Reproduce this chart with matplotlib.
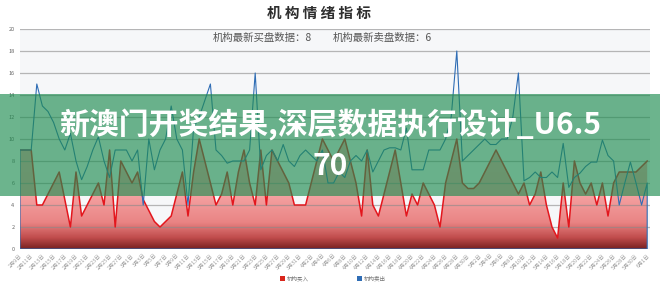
import matplotlib
matplotlib.use('Agg')
import matplotlib.pyplot as plt
from matplotlib.colors import LinearSegmentedColormap
from matplotlib.patches import Rectangle, PathPatch
import numpy as np
import pandas as pd

plt.rcParams['font.family'] = ['Noto Sans CJK SC', 'DejaVu Sans']

# daily categories, labelled every other day on the axis
dates = pd.date_range('2021-02-09', periods=113, freq='D')
day_labels = [f'{d.month}月{d.day}日' for d in dates]

# 机构买入 (red area)
buy = [9, 9, 9, 4, 4, 5, 6, 7, 4.5, 2,
       7, 3, 4, 5, 6, 4, 9, 2, 8, 7,
       6, 7, 4.5, 3.5, 2.5, 2, 2.5, 3, 5, 7,
       3, 7, 10, 8, 6, 4, 5, 7, 4, 7,
       9, 6, 4, 9, 4, 9, 8, 7, 6, 4,
       4, 4, 6, 8, 10, 9, 8, 9, 10, 8,
       6, 3, 9, 4, 3, 5, 7, 9, 6, 3,
       5, 4, 6, 5, 4, 2, 6, 8, 10, 6,
       5.5, 5.5, 6, 7, 8, 9, 8, 7, 6, 5,
       6, 4, 5, 7, 4, 2, 1, 6, 2, 8,
       6, 5, 6, 4, 6, 3, 6, 7, 7, 7,
       7, 7.5, 8]

# 机构卖出 (blue outline)
sell = [9, 9, 9, 15, 13, 12.5, 11.5, 10, 9, 10.5,
        8, 6.3, 7.5, 9, 10.2, 8, 6.5, 9, 9, 9,
        8, 9, 4, 10, 7.2, 9, 10, 13, 10, 9,
        4, 11, 12, 13.5, 15, 9, 8.5, 7.8, 8, 8,
        8, 9, 16, 7.2, 8.5, 9, 8, 9.5, 8, 7.5,
        8.5, 9, 8.5, 8, 9, 6, 6, 7, 6.5, 8,
        8.5, 8, 9, 7, 8, 9, 9.2, 9.2, 9, 11,
        7.2, 7.2, 7.2, 9, 9, 9, 10, 12, 18, 8,
        8.5, 9, 9.5, 10, 9.5, 9.5, 10, 10, 12, 16,
        6.2, 6.5, 7, 6.5, 6.5, 7, 6.5, 9.6, 5.6, 6.5,
        6.9, 7.5, 7.9, 7.9, 9.9, 8.5, 8, 4, 6, 7.9,
        6, 4, 6]

fig = plt.figure(figsize=(6.6, 2.91), dpi=100)
ax = fig.add_axes([20/660, 42/291, 630/660, 220/291])
ax.set_facecolor('#f6f7f9')

x = np.arange(len(buy))

# red area with vertical gradient
poly = ax.fill_between(x, 0, buy, facecolor='none', edgecolor='none')
clip = PathPatch(poly.get_paths()[0], transform=ax.transData, facecolor='none', edgecolor='none')
ax.add_patch(clip)
cmap = LinearSegmentedColormap.from_list('redgrad', [(0, '#7a2222'), (0.05, '#c04c4c'),
                                                     (0.12, '#e98484'), (0.25, '#f5a3a3'),
                                                     (1, '#f9baba')])
grad = np.linspace(0, 1, 256).reshape(-1, 1)
im = ax.imshow(grad, extent=[0, 112.5, 0, 20], origin='lower', aspect='auto', cmap=cmap, zorder=1)
im.set_clip_path(clip)

for v in range(2, 21, 2):
    ax.axhline(v, color='#8a8a8a', lw=0.9, alpha=0.6, zorder=3)

ax.plot(x, buy, color='#e3161d', lw=1.1, zorder=4)
ax.fill_between(x, 0, sell, facecolor='none', edgecolor='#2f6db5', lw=0.8, zorder=5)

ax.set_xlim(0, 112.5)
ax.set_ylim(0, 20)
for s in ax.spines.values():
    s.set_visible(False)

ax.set_yticks(range(0, 21, 2))
ax.tick_params(axis='y', length=0, labelsize=4, colors='#666666', pad=4)
ax.set_xticks(x[::2])
ax.set_xticklabels(day_labels[::2], rotation=45, ha='right', rotation_mode='anchor',
                   fontsize=3.8, color='#999999')
ax.tick_params(axis='x', length=0, pad=3)

# title and annotations
fig.text(319/660, 1 - 13/291, '机 构 情 绪 指 标', ha='center', va='center',
         fontsize=10.5, fontweight='bold', color='#2e2e2e')
fig.text(262/660, 1 - 38/291, '机构最新买盘数据：8', ha='center', va='center',
         fontsize=7.5, color='#555555')
fig.text(382/660, 1 - 38/291, '机构最新卖盘数据：6', ha='center', va='center',
         fontsize=7.5, color='#555555')

# legend
fig.add_artist(Rectangle((280/660, 1 - 281/291), 5/660, 5/291, transform=fig.transFigure,
                         facecolor='#d9261c', edgecolor='none'))
fig.text(287/660, 1 - 278.5/291, '机构买入', fontsize=4, va='center', color='#777777')
fig.add_artist(Rectangle((357/660, 1 - 281/291), 5/660, 5/291, transform=fig.transFigure,
                         facecolor='#2f6db5', edgecolor='none'))
fig.text(364/660, 1 - 278.5/291, '机构卖出', fontsize=4, va='center', color='#777777')

# green banner over the chart
fig.add_artist(Rectangle((0, 95/291), 1, 102/291, transform=fig.transFigure,
                         facecolor='#1e8c50', alpha=0.65, edgecolor='none', zorder=10))
fig.text(0.5, 1 - 125/291, '新澳门开奖结果,深层数据执行设计_U6.5', ha='center', va='center',
         fontsize=21.5, fontweight='bold', color='white', zorder=11)
fig.text(0.5, 1 - 166/291, '70', ha='center', va='center',
         fontsize=21.5, fontweight='bold', color='white', zorder=11)

fig.savefig('out.png', dpi=100)
